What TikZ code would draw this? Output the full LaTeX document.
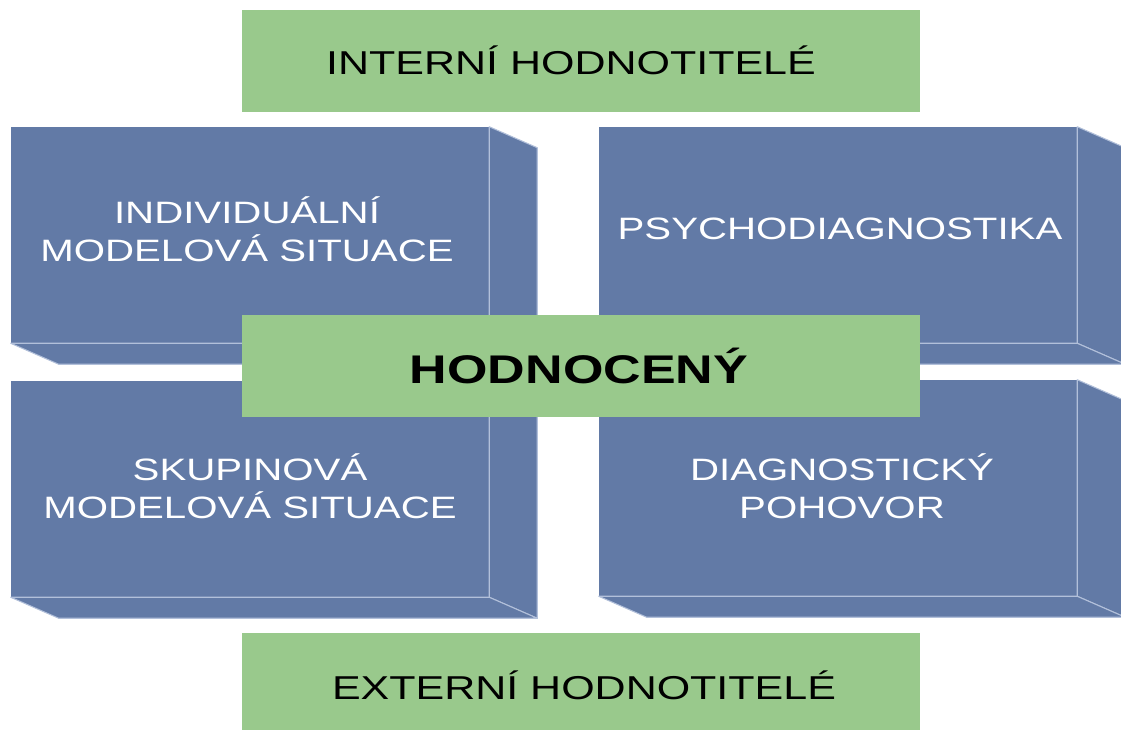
\documentclass[tikz,border=0pt]{standalone}
\usepackage{fontspec}
\setmainfont[FakeStretch=1.3]{Liberation Sans}
\usetikzlibrary{calc}
\definecolor{slate}{RGB}{98,122,166}
\definecolor{slateedge}{RGB}{178,192,218}
\definecolor{sage}{RGB}{153,201,140}

\begin{document}
\begin{tikzpicture}[x=0.75pt, y=-0.75pt,
    front/.style={fill=slate, minimum width=358.5pt, minimum height=162pt, inner sep=0pt},
    facetext/.style={text=white, align=center, font=\fontsize{23.2}{28.5}\selectfont},
    side/.style={fill=slate, draw=slateedge, line width=0.8pt, line join=round},
    banner/.style={fill=sage, minimum width=508.5pt, minimum height=76.5pt,
      inner sep=0pt, align=center, font=\fontsize{24.8}{28}\selectfont}]
    \useasboundingbox (0,0) rectangle (1121,729);
    \clip (0,0) rectangle (1121,729);

    % Front faces of the four blocks
    \node[front] (indiv)  at (250,235) {};
    \node[front] (psycho) at (838,235) {};
    \node[front] (skup)   at (250,489) {};
    \node[front] (diag)   at (838,488) {};

    % Right and bottom faces (depth 48 right, 21 down)
    \foreach \b in {indiv,psycho,skup,diag} {
        \filldraw[side] (\b.north east) -- ++(48,21) -- ($(\b.south east)+(48,21)$)
            -- (\b.south east) -- cycle;
        \filldraw[side] (\b.south west) -- ++(48,21) -- ($(\b.south east)+(48,21)$)
            -- (\b.south east) -- cycle;
    }

    % Block captions
    \node[facetext] (indivtext)  at ($(indiv)+(-3,-6)$)  {INDIVIDUÁLNÍ\\MODELOVÁ SITUACE};
    \node[facetext] (psychotext) at ($(psycho)+(2,-6)$)  {PSYCHODIAGNOSTIKA};
    \node[facetext] (skuptext)   at ($(skup)+(0,-3)$)    {SKUPINOVÁ\\MODELOVÁ SITUACE};
    \node[facetext] (diagtext)   at ($(diag)+(4,-2)$)    {DIAGNOSTICKÝ\\POHOVOR};

    % Green bands
    \node[banner] (intern) at (581,61)  {};
    \node[banner] (eval)   at (581,366) {};
    \node[banner] (extern) at (581,684) {};
    \node[font=\fontsize{24.8}{28}\selectfont] (interntext) at ($(intern)+(-10,-1)$) {INTERNÍ HODNOTITELÉ};
    \node[font=\fontsize{30}{30}\selectfont\bfseries] (evaltext) at ($(eval)+(-2,0)$) {HODNOCENÝ};
    \node[font=\fontsize{24.8}{28}\selectfont] (externtext) at ($(extern)+(3,1)$) {EXTERNÍ HODNOTITELÉ};
\end{tikzpicture}
\end{document}
